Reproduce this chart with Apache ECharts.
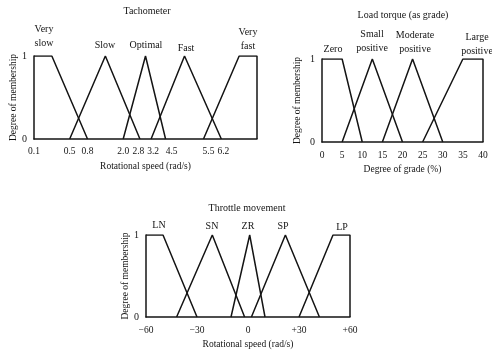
<!DOCTYPE html>
<html>
<head>
<meta charset="utf-8">
<script src="https://cdn.jsdelivr.net/npm/echarts@6/dist/echarts.min.js"></script>
<style>
  html, body { margin: 0; padding: 0; background: #fff; }
  #chart { width: 492px; height: 352px; }
</style>
</head>
<body>
<div id="chart"></div>
<script>
// Tachometer (rad/s) - the figure's axis is not to scale, so ticks sit on a warped scale
var tachTicks = [0.1, 0.5, 0.8, 2.0, 2.8, 3.2, 4.5, 5.5, 6.2];
var tachScaleVals = [0.1, 0.5, 0.8, 2.0, 2.8, 3.2, 4.5, 5.5, 6.2, 7.0];
var tachScaleAxis = [0, 16, 24, 40, 47.5, 52.5, 59, 76, 84, 100];
var tachNames = ['Very slow', 'Slow', 'Optimal', 'Fast', 'Very fast'];
var tachVerySlow = [[0.1, 1], [0.3, 1], [0.8, 0]];
var tachSlow = [[0.5, 0], [1.4, 1], [2.8, 0]];
var tachOptimal = [[2.0, 0], [3.0, 1], [4.5, 0]];
var tachFast = [[3.2, 0], [5.0, 1], [6.2, 0]];
var tachVeryFast = [[5.5, 0], [6.6, 1], [7.0, 1], [7.0, 0]];

// Load torque (grade %)
var loadTicks = [0, 5, 10, 15, 20, 25, 30, 35, 40];
var loadZero = [[0, 1], [5, 1], [10, 0]];
var loadSmall = [[5, 0], [12.5, 1], [20, 0]];
var loadModerate = [[15, 0], [22.5, 1], [30, 0]];
var loadLarge = [[25, 0], [35, 1], [40, 1], [40, 0]];

// Throttle movement
var thrTicks = [-60, -30, 0, 30, 60];
var thrLN = [[-60, 1], [-50, 1], [-30, 0]];
var thrSN = [[-42, 0], [-21, 1], [-2, 0]];
var thrZR = [[-10, 0], [1, 1], [10, 0]];
var thrSP = [[2, 0], [22, 1], [42, 0]];
var thrLP = [[30, 0], [50, 1], [60, 1], [60, 0]];

function warp(v) {
    var a = tachScaleVals, b = tachScaleAxis;
    for (var i = 0; i < a.length - 1; i++) {
        if (v <= a[i + 1]) {
            return b[i] + (v - a[i]) / (a[i + 1] - a[i]) * (b[i + 1] - b[i]);
        }
    }
    return b[b.length - 1];
}
// the printed labels sit a little off their lines in the figure
var tachNudge = { '2.8': 'l', '3.2': 'r1', '4.5': 'r3', '5.5': 'r2', '6.2': 'r1' };
function tachLabel(v) {
    for (var i = 0; i < tachTicks.length; i++) {
        if (Math.abs(warp(tachTicks[i]) - v) < 0.01) {
            var s = tachTicks[i].toFixed(1);
            return tachNudge[s] ? '{' + tachNudge[s] + '|' + s + '}' : s;
        }
    }
    return '';
}

var FONT = '"Liberation Serif", "Times New Roman", serif';
var INK = '#141414';

function tickRich(pad) {
    return { fontFamily: FONT, fontSize: 9.5, color: INK, padding: pad };
}
function xAxisFor(grid, min, max, name, labels) {
    return {
        type: 'value', gridIndex: grid, min: min, max: max,
        name: name, nameLocation: 'middle', nameGap: 22,
        nameTextStyle: { fontFamily: FONT, fontSize: 9.5, color: INK },
        axisLine: { show: true, onZero: false, lineStyle: { color: INK, width: 1.5 } },
        axisTick: { show: false },
        splitLine: { show: false },
        axisLabel: Object.assign({ fontFamily: FONT, fontSize: 9.5, color: INK, margin: 8, hideOverlap: false }, labels)
    };
}
function yAxisFor(grid, gap) {
    return {
        type: 'value', gridIndex: grid, min: 0, max: 1, interval: 1,
        name: 'Degree of membership', nameLocation: 'middle', nameGap: gap, nameRotate: 90,
        nameTextStyle: { fontFamily: FONT, fontSize: 9.5, color: INK },
        axisLine: { show: true, onZero: false, lineStyle: { color: INK, width: 1.5 } },
        axisTick: { show: false },
        splitLine: { show: false },
        axisLabel: { fontFamily: FONT, fontSize: 10, color: INK, margin: 7 }
    };
}
function mf(axis, data, name) {
    return {
        type: 'line', name: name, xAxisIndex: axis, yAxisIndex: axis,
        data: data, symbol: 'none', silent: true,
        lineStyle: { color: INK, width: 1.5 }
    };
}
function txt(text, x, y) {
    return {
        type: 'text', x: x, y: y,
        style: { text: text, font: '10px ' + FONT, fill: INK, align: 'center', verticalAlign: 'middle', lineHeight: 14 }
    };
}

var chart = echarts.init(document.getElementById('chart'));
var option = {
    backgroundColor: '#fff',
    animation: false,
    grid: [
        { left: 34, top: 56, width: 223, height: 83 },
        { left: 322, top: 59, width: 161, height: 83 },
        { left: 146, top: 235, width: 204, height: 82 }
    ],
    xAxis: [
        xAxisFor(0, 0, 100, 'Rotational speed (rad/s)', {
            customValues: tachTicks.map(warp), formatter: tachLabel, margin: 7,
            rich: {
                l: tickRich([0, 3, 0, 0]),
                r1: tickRich([0, 0, 0, 4]),
                r2: tickRich([0, 0, 0, 10]),
                r3: tickRich([0, 0, 0, 12])
            }
        }),
        xAxisFor(1, 0, 40, 'Degree of grade (%)', { customValues: loadTicks }),
        xAxisFor(2, -60, 60, 'Rotational speed (rad/s)', {
            customValues: thrTicks,
            formatter: function (v) { return v > 0 ? '+' + v : (v < 0 ? '\u2212' + (-v) : '0'); }
        })
    ],
    yAxis: [yAxisFor(0, 16), yAxisFor(1, 20), yAxisFor(2, 14)],
    graphic: [
        txt('Tachometer', 147, 11),
        txt('Very\nslow', 44, 36),
        txt('Slow', 105, 45),
        txt('Optimal', 146, 45),
        txt('Fast', 186, 48),
        txt('Very\nfast', 248, 39),
        txt('Load torque (as grade)', 403, 15),
        txt('Zero', 333, 49),
        txt('Small\npositive', 372, 41),
        txt('Moderate\npositive', 415, 42),
        txt('Large\npositive', 477, 44),
        txt('Throttle movement', 247, 208),
        txt('LN', 159, 225),
        txt('SN', 212, 226),
        txt('ZR', 248, 226),
        txt('SP', 283, 226),
        txt('LP', 342, 227)
    ],
    series: [
        mf(0, tachVerySlow.map(function (p) { return [warp(p[0]), p[1]]; }), tachNames[0]),
        mf(0, tachSlow.map(function (p) { return [warp(p[0]), p[1]]; }), tachNames[1]),
        mf(0, tachOptimal.map(function (p) { return [warp(p[0]), p[1]]; }), tachNames[2]),
        mf(0, tachFast.map(function (p) { return [warp(p[0]), p[1]]; }), tachNames[3]),
        mf(0, tachVeryFast.map(function (p) { return [warp(p[0]), p[1]]; }), tachNames[4]),
        mf(1, loadZero, 'Zero'),
        mf(1, loadSmall, 'Small positive'),
        mf(1, loadModerate, 'Moderate positive'),
        mf(1, loadLarge, 'Large positive'),
        mf(2, thrLN, 'LN'),
        mf(2, thrSN, 'SN'),
        mf(2, thrZR, 'ZR'),
        mf(2, thrSP, 'SP'),
        mf(2, thrLP, 'LP')
    ]
};
chart.setOption(option);
</script>
</body>
</html>
